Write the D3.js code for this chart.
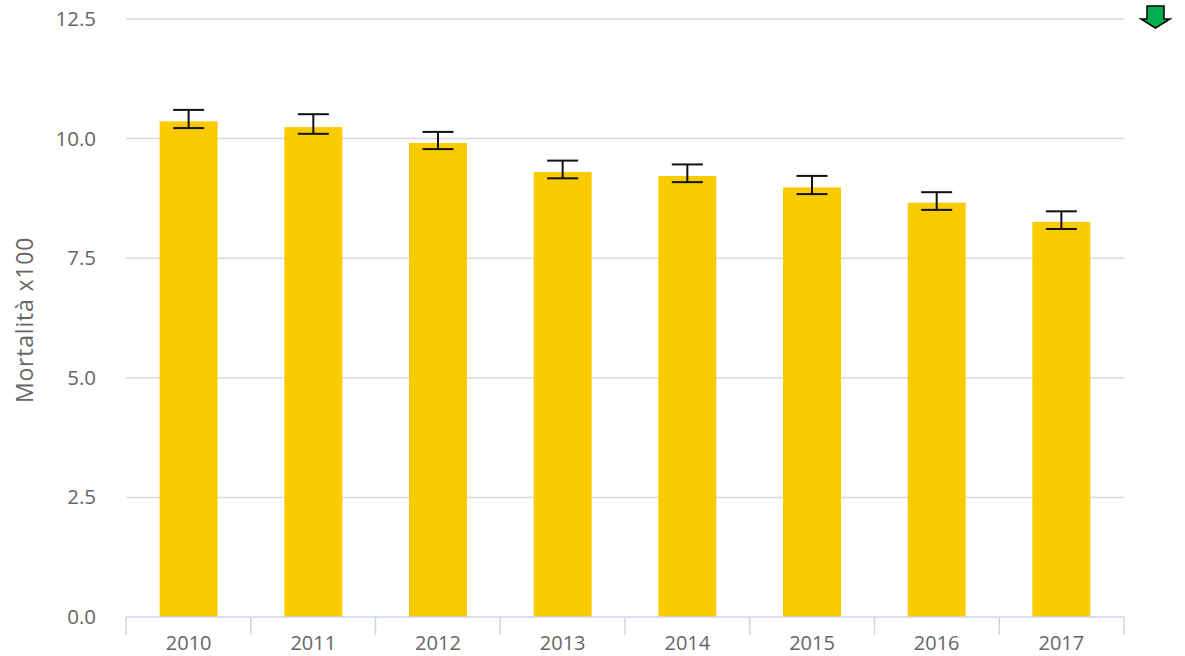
<!DOCTYPE html>
<html>
<head>
<meta charset="utf-8">
<script src="https://cdn.jsdelivr.net/npm/d3@7"></script>
<style>
  body { margin: 0; background: #fff; }
  svg { font-family: "Open Sans", "DejaVu Sans", sans-serif; }
</style>
</head>
<body>
<svg id="chart" width="1185" height="656"></svg>
<script>
// dati
var years = ["2010", "2011", "2012", "2013", "2014", "2015", "2016", "2017"];
var mortality = [10.36, 10.24, 9.91, 9.30, 9.22, 8.98, 8.66, 8.26];
var ciLow = [10.22, 10.10, 9.78, 9.17, 9.09, 8.84, 8.51, 8.11];
var ciHigh = [10.60, 10.51, 10.14, 9.54, 9.46, 9.22, 8.88, 8.48];
var yTicks = [0, 2.5, 5, 7.5, 10, 12.5];

var svg = d3.select("#chart");
var plotLeft = 126, plotRight = 1124, plotTop = 19, plotBottom = 617;

var x = d3.scaleBand().domain(years).range([plotLeft, plotRight]).paddingInner(0.535).paddingOuter(0.27);
var y = d3.scaleLinear().domain([0, 12.5]).range([plotBottom, plotTop]);

// griglia
svg.append("g").selectAll("line")
  .data(yTicks.filter(function(d){ return d > 0; }))
  .enter().append("line")
  .attr("x1", plotLeft).attr("x2", plotRight)
  .attr("y1", function(d){ return y(d); }).attr("y2", function(d){ return y(d); })
  .attr("stroke", "#d9d9d9").attr("stroke-width", 1.5);

// etichette asse y
svg.append("g").selectAll("text")
  .data(yTicks).enter().append("text")
  .attr("x", 96).attr("y", function(d){ return y(d) + 7; })
  .attr("text-anchor", "end")
  .attr("font-size", 20.5).attr("fill", "#666")
  .text(function(d){ return d3.format(".1f")(d); });

svg.append("text")
  .attr("transform", "translate(33,320) rotate(-90)")
  .attr("text-anchor", "middle")
  .attr("font-size", 23).attr("letter-spacing", 0.8).attr("fill", "#666")
  .text("Mortalità x100");

// barre
svg.append("g").selectAll("rect")
  .data(years).enter().append("rect")
  .attr("x", function(d){ return x(d); })
  .attr("width", x.bandwidth())
  .attr("y", function(d, i){ return y(mortality[i]); })
  .attr("height", function(d, i){ return y(0) - y(mortality[i]); })
  .attr("fill", "#facb00");

// barre d'errore
var eb = svg.append("g").attr("stroke", "#111").attr("stroke-width", 2).attr("fill", "none");
years.forEach(function(d, i){
  var cx = x(d) + x.bandwidth() / 2;
  eb.append("line").attr("x1", cx).attr("x2", cx).attr("y1", y(ciHigh[i])).attr("y2", y(ciLow[i]));
  eb.append("line").attr("x1", cx - 15.5).attr("x2", cx + 15.5).attr("y1", y(ciHigh[i])).attr("y2", y(ciHigh[i]));
  eb.append("line").attr("x1", cx - 15.5).attr("x2", cx + 15.5).attr("y1", y(ciLow[i])).attr("y2", y(ciLow[i]));
});

// asse x
var xStep = (plotRight - plotLeft) / years.length;
svg.append("line").attr("x1", plotLeft).attr("x2", plotRight).attr("y1", plotBottom).attr("y2", plotBottom)
  .attr("stroke", "#ccd6eb").attr("stroke-width", 1.5);
svg.append("g").selectAll("line")
  .data(d3.range(years.length + 1)).enter().append("line")
  .attr("x1", function(i){ return plotLeft + i * xStep; })
  .attr("x2", function(i){ return plotLeft + i * xStep; })
  .attr("y1", plotBottom).attr("y2", plotBottom + 18)
  .attr("stroke", "#ccd6eb").attr("stroke-width", 1.5);
svg.append("g").selectAll("text")
  .data(years).enter().append("text")
  .attr("x", function(d){ return x(d) + x.bandwidth() / 2; })
  .attr("y", 650)
  .attr("text-anchor", "middle")
  .attr("font-size", 20).attr("fill", "#666")
  .text(function(d){ return d; });

// freccia verde in alto a destra
svg.append("path")
  .attr("d", "M1147,6 L1164,6 L1164,19 L1170,19 L1155.5,28 L1141,19 L1147,19 Z")
  .attr("fill", "#00b050").attr("stroke", "#000").attr("stroke-width", 1.5)
  .attr("stroke-linejoin", "miter");
</script>
</body>
</html>
